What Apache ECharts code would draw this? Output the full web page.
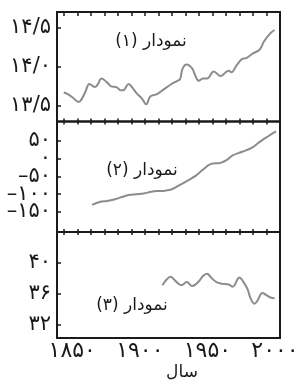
<!DOCTYPE html>
<html>
<head>
<meta charset="utf-8">
<script src="https://cdn.jsdelivr.net/npm/echarts@6/dist/echarts.min.js"></script>
<style>
  html, body { margin: 0; padding: 0; background: #fff; }
  #main { width: 301px; height: 392px; }
</style>
</head>
<body>
<div id="main"></div>
<script>
// نمودار (۱) - دما
var years1 = [1850, 1853, 1857, 1861, 1863, 1866, 1869, 1873, 1875, 1878, 1882, 1885, 1889, 1892, 1894, 1898, 1900, 1904, 1908, 1911, 1914, 1919, 1924, 1929, 1934, 1936, 1938, 1941, 1945, 1947, 1950, 1953, 1956, 1961, 1966, 1968, 1972, 1974, 1978, 1982, 1985, 1990, 1995, 1998, 2003, 2006];
var values1 = [13.67, 13.65, 13.60, 13.55, 13.58, 13.68, 13.78, 13.74, 13.77, 13.85, 13.80, 13.75, 13.74, 13.70, 13.70, 13.78, 13.75, 13.66, 13.59, 13.52, 13.62, 13.65, 13.71, 13.77, 13.82, 13.84, 13.98, 14.03, 13.98, 13.90, 13.82, 13.85, 13.85, 13.94, 13.88, 13.90, 13.95, 13.93, 14.02, 14.10, 14.11, 14.17, 14.22, 14.32, 14.43, 14.47];

// نمودار (۲)
var years2 = [1871, 1877, 1882, 1888, 1893, 1898, 1904, 1909, 1915, 1920, 1925, 1930, 1935, 1941, 1948, 1953, 1959, 1966, 1971, 1975, 1982, 1989, 1995, 2001, 2007];
var values2 = [-130, -121, -119, -114, -108, -102, -100, -98, -93, -91, -90, -86, -76, -63, -47, -31, -15, -12, -3, 9, 19, 30, 47, 62, 76];

// نمودار (۳)
var years3 = [1923, 1926, 1929, 1933, 1937, 1941, 1945, 1950, 1953, 1956, 1959, 1963, 1967, 1972, 1975, 1980, 1983, 1986, 1988, 1991, 1993, 1997, 2000, 2003, 2006];
var values3 = [37.1, 37.8, 38.2, 37.6, 37.1, 37.5, 37.0, 37.6, 38.3, 38.6, 38.1, 37.5, 37.3, 37.2, 36.9, 38.1, 37.5, 36.6, 35.5, 34.7, 35.0, 36.1, 35.8, 35.5, 35.4];

var xTicks = [1850, 1860, 1870, 1880, 1890, 1900, 1910, 1920, 1930, 1940, 1950, 1960, 1970, 1980, 1990, 2000];
var xLabels = [1850, 1900, 1950, 2000];
var yTicks1 = [13.5, 14, 14.5];
var yTicks2 = [-150, -100, -50, 0, 50];
var yTicks3 = [32, 36, 40];
var titles = ['نمودار (۱)', 'نمودار (۲)', 'نمودار (۳)'];
var xName = 'سال';

var FONT = 'DejaVu Sans';

function fa(v, dec) {
  var s = dec ? v.toFixed(1) : String(v);
  var d = '۰۱۲۳۴۵۶۷۸۹';
  return s.replace(/[0-9]/g, function (c) { return d[+c]; })
          .replace('.', '/')
          .replace('-', '–');
}

function pairs(xs, ys) {
  return xs.map(function (x, i) { return [x, ys[i]]; });
}

var grids = [
  { left: 57, right: 21, top: 12, height: 109.5 },
  { left: 57, right: 21, top: 121.5, height: 110.5 },
  { left: 57, right: 21, top: 232, height: 106 }
].map(function (g) {
  g.show = true;
  g.borderColor = '#1a1a1a';
  g.borderWidth = 2;
  g.backgroundColor = 'transparent';
  g.containLabel = false;
  g.outerBoundsMode = 'none';
  return g;
});

function xAx(grid, pos, tickLen, withLabels) {
  return {
    type: 'value', gridIndex: grid, position: pos,
    min: 1845, max: 2010,
    axisLine: { show: false, onZero: false },
    splitLine: { show: false },
    axisTick: {
      show: tickLen > 0, inside: true, length: tickLen,
      customValues: xTicks,
      lineStyle: { color: '#1a1a1a', width: 1.5 }
    },
    axisLabel: {
      show: !!withLabels,
      customValues: xLabels,
      formatter: function (v) { return fa(v); },
      fontFamily: FONT, fontSize: 22, color: '#1a1a1a',
      margin: 2,
      hideOverlap: false,
      showMinLabel: true, showMaxLabel: true,
      padding: [0, 0, 0, 17]
    }
  };
}

// labelVals: which of the ticks get a label on this axis (every other one
// for the crowded middle panel, split over two stacked axes)
function yAx(grid, min, max, ticks, labelVals, dec, showTicks) {
  return {
    type: 'value', gridIndex: grid, position: 'left', min: min, max: max,
    axisLine: { show: false, onZero: false },
    splitLine: { show: false },
    axisTick: {
      show: showTicks, inside: true, length: 4,
      customValues: ticks,
      lineStyle: { color: '#1a1a1a', width: 1.5 }
    },
    axisLabel: {
      customValues: labelVals,
      formatter: function (v) { return fa(v, dec); },
      fontFamily: FONT, fontSize: 21, color: '#1a1a1a',
      margin: 6,
      hideOverlap: false,
      showMinLabel: true, showMaxLabel: true
    }
  };
}

function line(xi, yi, data) {
  return {
    type: 'line', xAxisIndex: xi, yAxisIndex: yi, data: data,
    showSymbol: false, smooth: 0.4,
    lineStyle: { color: '#8c8c8c', width: 2 },
    silent: true
  };
}

function label(text, x, y) {
  return {
    type: 'text', x: x, y: y,
    style: {
      text: '\u202B' + text + '\u202C',
      font: '17px "DejaVu Sans"',
      fill: '#1a1a1a',
      align: 'center', verticalAlign: 'middle'
    }
  };
}

var myChart = echarts.init(document.getElementById('main'));

var option = {
  animation: false,
  backgroundColor: '#fff',
  grid: grids,
  xAxis: [
    xAx(0, 'top', 4),
    xAx(0, 'bottom', 3),
    xAx(1, 'top', 3),
    xAx(1, 'bottom', 3),
    xAx(2, 'top', 3),
    xAx(2, 'bottom', 0, true)
  ],
  yAxis: [
    yAx(0, 13.3, 14.7, yTicks1, yTicks1, true, true),
    yAx(1, -206, 104, yTicks2, yTicks2.filter(function (v, i) { return i % 2 === 0; }), false, true),
    yAx(1, -206, 104, yTicks2, yTicks2.filter(function (v, i) { return i % 2 === 1; }), false, false),
    yAx(2, 30.25, 44, yTicks3, yTicks3, false, true)
  ],
  series: [
    line(0, 0, pairs(years1, values1)),
    line(2, 1, pairs(years2, values2)),
    line(4, 3, pairs(years3, values3))
  ],
  graphic: [
    label(titles[0], 151, 42),
    label(titles[1], 142, 171),
    label(titles[2], 132, 306),
    label(xName, 182, 373)
  ]
};

myChart.setOption(option);
</script>
</body>
</html>
